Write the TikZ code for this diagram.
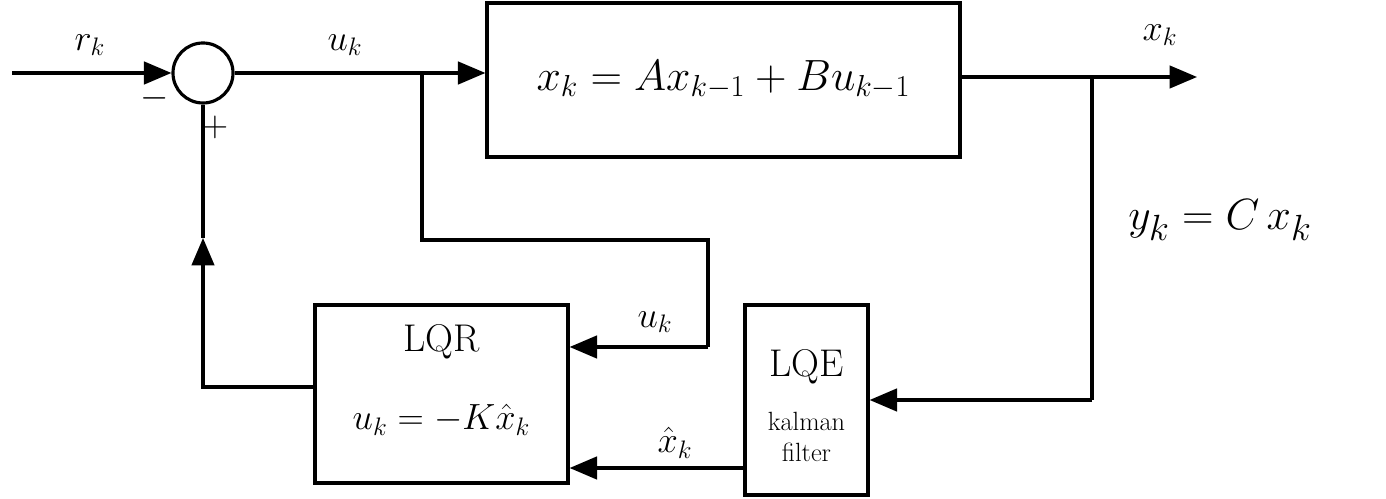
\documentclass[tikz,border=0pt]{standalone}
\usepackage{tikz}
\usetikzlibrary{arrows.meta, positioning, calc}
\tikzset{
  block/.style={draw, line width=1.8pt, rectangle, inner sep=0pt},
  flow/.style={line width=1.8pt, -{Triangle[length=0.55cm, width=0.45cm]}},
  wire/.style={line width=1.8pt},
  lbl/.style={font=\fontsize{22}{26}\selectfont},
}
\begin{document}
\begin{tikzpicture}
  \useasboundingbox (0,0) rectangle (27.72,9.96);
  % blocks
  \node[draw, circle, line width=1.8pt, minimum size=1.2cm] (sum) at (4.06,8.5) {};
  \node[block, minimum width=9.46cm, minimum height=3.08cm,
        font=\fontsize{24}{28}\selectfont] (plant) at (14.47,8.36) {$x_k = Ax_{k-1} + Bu_{k-1}$};
  \node[block, minimum width=5.06cm, minimum height=3.56cm] (lqr) at (8.83,2.08) {};
  \node[lbl] (lqrname) at (8.83,3.12) {LQR};
  \node[lbl] (lqreq) at (8.83,1.56) {$u_k = -K\hat{x}_k$};
  \node[block, minimum width=2.46cm, minimum height=3.8cm] (lqe) at (16.13,1.96) {};
  \node[lbl] (lqename) at (16.13,2.62) {LQE};
  \node[align=center, font=\fontsize{15}{18}\selectfont] (lqetext) at (16.13,1.22) {kalman\\filter};
  % points on the wires
  \coordinate (src) at (0.24,8.5);
  \coordinate (ubranch) at (8.44,8.5);
  \coordinate (ulow) at (8.44,5.16);
  \coordinate (uright) at (14.16,5.16);
  \coordinate (ubottom) at (14.16,3.02);
  \coordinate (out) at (23.94,8.42);
  \coordinate (ybranch) at (21.84,8.42);
  \coordinate (ybottom) at (21.84,1.96);
  \coordinate (fbmid) at (4.06,5.2);
  % connectors
  \draw[flow] (src) -- (sum.west);
  \draw[flow] (sum.east) -- (plant.west |- sum.east);
  \draw[flow] (plant.east |- out) -- (out);
  \draw[wire] (ubranch) -- (ulow) -- (uright) -- (ubottom);
  \draw[flow] (ubottom) -- (lqr.east |- ubottom);
  \draw[wire] (ybranch) -- (ybottom);
  \draw[flow] (ybottom) -- (lqe.east |- ybottom);
  \draw[flow] (lqe.west |- 0,0.6) -- (lqr.east |- 0,0.6);
  \draw[flow] (lqr.west |- 0,2.22) -| (fbmid);
  \draw[wire] (fbmid) -- (sum.south);
  % labels
  \node[lbl] (rk) at (1.8,9.06) {$r_k$};
  \node[lbl] (uk) at (6.9,9.06) {$u_k$};
  \node[lbl] (xk) at (23.2,9.26) {$x_k$};
  \node[lbl] (minus) at (3.1,8.0) {$-$};
  \node[lbl] (plus) at (4.3,7.42) {$+$};
  \node[lbl] (ukfb) at (13.1,3.52) {$u_k$};
  \node[lbl] (xhat) at (13.5,1.1) {$\hat{x}_k$};
  \node[lbl, font=\fontsize{28}{32}\selectfont] (yk) at (24.4,5.56) {$y_k = C\,x_k$};
\end{tikzpicture}
\end{document}
